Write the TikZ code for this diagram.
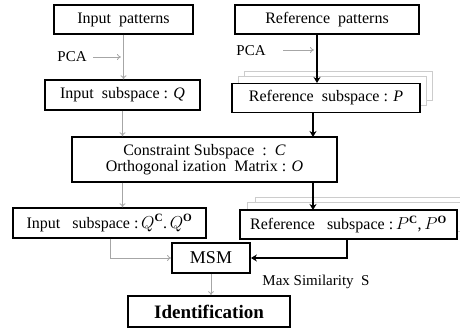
\documentclass[tikz,border=0pt]{standalone}
\usepackage{fontspec}
\setmainfont{Liberation Serif}
\usetikzlibrary{positioning,arrows.meta}
\tikzset{
    box/.style = {rectangle, draw = black, line width = 1.4pt, fill = white, inner sep = 0pt, font = \fontsize{16}{18}\selectfont},
    bigbox/.style = {box, line width = 1.6pt, font = \fontsize{19}{21}\selectfont\bfseries},
    ghost/.style = {draw = gray!40, line width = 0.6pt, fill = white},
    thin/.style = {draw = gray!70, line width = 0.8pt, -{To[length=4pt,width=6pt]}},
    thick/.style = {draw = black, line width = 1.8pt, -{Stealth[length=6pt,width=7pt]}},
    label/.style = {font = \fontsize{15}{17}\selectfont}
}

\begin{document}
\begin{tikzpicture}[x=1pt, y=-1pt]
        \useasboundingbox (0,0) rectangle (460,328);
        % stacked sheets behind the reference subspaces
        \draw [ghost] (244,71) rectangle (432,100);
        \draw [ghost] (238,76) rectangle (426,105);
        \draw [ghost] (255,197) rectangle (470,226);
        \draw [ghost] (247,202) rectangle (464,231);
        \node [box, minimum width = 139pt, minimum height = 29pt] (inpat) at (123.5,19.5) {Input\ \ patterns};
        \node [box, minimum width = 184pt, minimum height = 29pt] (refpat) at (327,19.5) {Reference\ \ patterns};
        \node [box, minimum width = 155pt, minimum height = 30pt] (insub) at (122.5,95) {Input\ \ subspace : \textit{Q}};
        \node [box, minimum width = 188pt, minimum height = 29pt] (refsub) at (326,98) {Reference\ \ subspace : \textit{P}};
        \node [box, minimum width = 265pt, minimum height = 45pt, align = center] (constr) at (204.5,159.5)
            {Constraint Subspace\ \ :\ \ \textit{C}\\[-2pt]Orthogonal ization\ \ Matrix : \textit{O}};
        \node [box, minimum width = 193pt, minimum height = 30pt] (inqc) at (109.5,223) {Input\ \ \ subspace :\,$Q^{\mathbf{C}}$.\,$Q^{\mathbf{O}}$};
        \node [box, minimum width = 217pt, minimum height = 29pt] (refpc) at (348.5,224.5) {Reference\ \ \ subspace :\,$P^{\mathbf{C}}$,\,$P^{\mathbf{O}}$};
        \node [box, line width = 1.8pt, minimum width = 78pt, minimum height = 30pt, font = \fontsize{18}{20}\selectfont] (msm) at (211,258) {MSM};
        \node [bigbox, minimum width = 162pt, minimum height = 31pt] (ident) at (209,311.5) {Identification};
        \node [label] (pca1) at (72,57) {PCA};
        \node [label] (pca2) at (251,51) {PCA};
        \node [label] (maxs) at (316,282) {Max Similarity\ \ S};
        \coordinate (pcaend1) at (121,57);
        \coordinate (pcaend2) at (314,50);
        \draw [thin] (pca1.east) ++(3,0) -- (pcaend1);
        \draw [thin] (pca2.east) ++(14,-1) -- (pcaend2);
        \draw [thin] (inpat.south) -- (inpat.south |- insub.north);
        \draw [thick] (refpat.south -| 317,0) -- (317,83);
        \draw [thin] (insub.south) -- (insub.south |- constr.north);
        \draw [thick] (refsub.south -| 313,0) -- (313,137);
        \draw [thin] (constr.south -| insub.south) -- (insub.south |- inqc.north);
        \draw [thick] (constr.south -| 313,0) -- (313,210);
        \draw [thin] (inqc.south -| 110,0) |- (msm.west);
        \draw [thick] (refpc.south -| 347,0) |- (msm.east);
        \draw [thin] (msm.south) -- (msm.south |- ident.north);
    \end{tikzpicture}
\end{document}
